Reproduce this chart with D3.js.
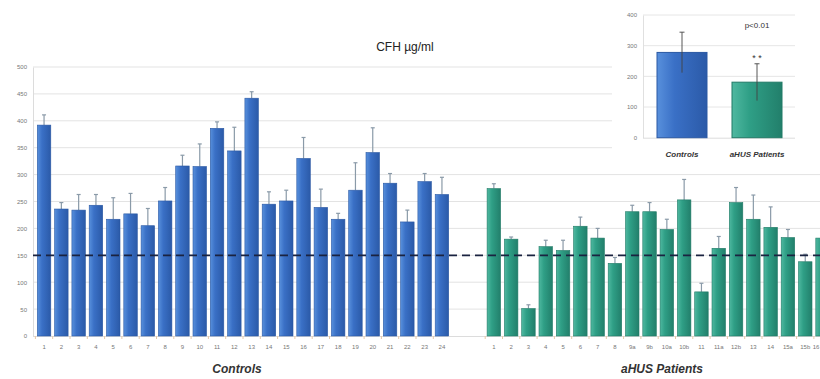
<!DOCTYPE html>
<html>
<head>
<meta charset="utf-8">
<script src="https://cdn.jsdelivr.net/npm/d3@7"></script>
<style>
  html, body { margin: 0; padding: 0; background: #fff; }
  svg { display: block; font-family: "Liberation Sans", "DejaVu Sans", Arial, sans-serif; }
</style>
</head>
<body>
<svg id="chart" width="820" height="379"></svg>
<script>
// CFH concentration per subject (µg/ml), mean and upper error
const controlLabels = ["1","2","3","4","5","6","7","8","9","10","11","12","13","14","15","16","17","18","19","20","21","22","23","24"];
const controlValues = [392,236,234,243,217,227,205,251,316,315,386,344,442,245,251,330,239,217,271,341,284,212,287,263];
const controlErrors = [19,12,29,20,40,38,32,25,20,42,12,44,12,23,20,39,34,11,51,46,18,22,15,32];

const patientLabels = ["1","2","3","4","5","6","7","8","9a","9b","10a","10b","11","11a","12b","13","14","15a","15b","16"];
const patientValues = [274,180,51,166,159,204,182,135,231,231,198,253,82,163,248,217,202,183,138,182];
const patientErrors = [9,4,7,12,19,17,18,11,12,17,19,38,16,22,28,45,38,15,14,10];

// Group means (inset)
const groupNames = ["Controls", "aHUS Patients"];
const groupMeans = [278, 181];
const groupErrors = [66, 60];

const threshold = 150;
const yTicks = [0,50,100,150,200,250,300,350,400,450,500];
const insetTicks = [0,100,200,300,400];

const svg = d3.select("#chart");
const W = 820, H = 379;

// gradients for bar fills
const defs = svg.append("defs");
function grad(id, c1, c2, c3) {
  const g = defs.append("linearGradient").attr("id", id).attr("x1", "0").attr("x2", "1").attr("y1", "0").attr("y2", "0");
  g.append("stop").attr("offset", "0%").attr("stop-color", c1);
  g.append("stop").attr("offset", "35%").attr("stop-color", c2);
  g.append("stop").attr("offset", "100%").attr("stop-color", c3);
}
grad("gBlue", "#5890dc", "#3a70c6", "#2b5aa8");
grad("gTeal", "#4fb8a0", "#2f9f86", "#227f6b");

// ---------- main chart ----------
const gap = ["_g1", "_g2"];
const controlKeys = controlLabels.map(d => "c" + d);
const patientKeys = patientLabels.map(d => "p" + d);
const allKeys = controlKeys.concat(gap, patientKeys);

const x = d3.scaleBand().domain(allKeys).range([35.4, 35.4 + allKeys.length * 17.3])
  .paddingInner(0.22).paddingOuter(0.11);
const y = d3.scaleLinear().domain([0, 500]).range([336, 67]);

const plotLeft = 33, plotRight = W;

// horizontal gridlines
svg.append("g").selectAll("line").data(yTicks.filter(t => t > 0)).join("line")
  .attr("x1", plotLeft).attr("x2", plotRight)
  .attr("y1", d => y(d)).attr("y2", d => y(d))
  .attr("stroke", "#e3e3e3").attr("stroke-width", 1);

// y axis
const yAxis = svg.append("g").attr("transform", `translate(${plotLeft},0)`)
  .call(d3.axisLeft(y).tickValues(yTicks).tickSize(0).tickPadding(6));
yAxis.select(".domain").attr("stroke", "#dcdcdc");
yAxis.selectAll("text").attr("font-size", 6).attr("fill", "#777");

// baseline
svg.append("line").attr("x1", plotLeft).attr("x2", plotRight)
  .attr("y1", y(0) + 0.5).attr("y2", y(0) + 0.5).attr("stroke", "#dcdcdc");

const controls = controlKeys.map((k, i) => ({ key: k, label: controlLabels[i], v: controlValues[i], e: controlErrors[i], fill: "url(#gBlue)", stroke: "#2a58a3" }));
const patients = patientKeys.map((k, i) => ({ key: k, label: patientLabels[i], v: patientValues[i], e: patientErrors[i], fill: "url(#gTeal)", stroke: "#217a66" }));
const bars = controls.concat(patients);

// small category ticks under the axis
svg.append("g").selectAll("line").data(bars).join("line")
  .attr("x1", d => x(d.key) - x.step() * 0.11).attr("x2", d => x(d.key) - x.step() * 0.11)
  .attr("y1", y(0)).attr("y2", y(0) + 3)
  .attr("stroke", "#e8c9a8").attr("stroke-width", 1);

// error bars (upper)
const eb = svg.append("g");
eb.selectAll("line.v").data(bars).join("line").attr("class", "v")
  .attr("x1", d => x(d.key) + x.bandwidth() / 2).attr("x2", d => x(d.key) + x.bandwidth() / 2)
  .attr("y1", d => y(d.v)).attr("y2", d => y(d.v + d.e))
  .attr("stroke", "#8a9aa8").attr("stroke-width", 1.2);
eb.selectAll("line.c").data(bars).join("line").attr("class", "c")
  .attr("x1", d => x(d.key) + x.bandwidth() / 2 - 2).attr("x2", d => x(d.key) + x.bandwidth() / 2 + 2)
  .attr("y1", d => y(d.v + d.e)).attr("y2", d => y(d.v + d.e))
  .attr("stroke", "#8a9aa8").attr("stroke-width", 1.2);

// bars
svg.append("g").selectAll("rect").data(bars).join("rect")
  .attr("x", d => x(d.key)).attr("width", x.bandwidth())
  .attr("y", d => y(d.v)).attr("height", d => y(0) - y(d.v))
  .attr("fill", d => d.fill).attr("stroke", d => d.stroke).attr("stroke-width", 0.6);

// threshold line
svg.append("line").attr("x1", plotLeft).attr("x2", plotRight)
  .attr("y1", y(threshold)).attr("y2", y(threshold))
  .attr("stroke", "#1a2340").attr("stroke-width", 1.8).attr("stroke-dasharray", "8,5");

// category labels (the last one is kept inside the right edge)
svg.append("g").selectAll("text").data(bars).join("text")
  .attr("x", d => Math.min(x(d.key) + x.bandwidth() / 2, W - 4)).attr("y", 349)
  .attr("text-anchor", "middle").attr("font-size", 6).attr("fill", "#777")
  .text(d => d.label);

// group labels
svg.append("text").attr("x", 237).attr("y", 373).attr("text-anchor", "middle")
  .attr("font-size", 12).attr("font-weight", "bold").attr("font-style", "italic").attr("fill", "#333")
  .text("Controls");
svg.append("text").attr("x", 662).attr("y", 373).attr("text-anchor", "middle")
  .attr("font-size", 12).attr("font-weight", "bold").attr("font-style", "italic").attr("fill", "#333")
  .text("aHUS Patients");

// title
svg.append("text").attr("x", 405).attr("y", 51).attr("text-anchor", "middle")
  .attr("font-size", 12).attr("fill", "#222").text("CFH µg/ml");

// ---------- inset: group means ----------
const inset = svg.append("g");
inset.append("rect").attr("x", 612).attr("y", 0).attr("width", 208).attr("height", 166).attr("fill", "#fff");

const iy = d3.scaleLinear().domain([0, 400]).range([137.7, 15]);
const ix = d3.scaleBand().domain(groupNames).range([644.5, 794.5]).paddingInner(1 / 3).paddingOuter(1 / 6);

inset.append("g").selectAll("line").data(insetTicks.filter(t => t > 0)).join("line")
  .attr("x1", 643).attr("x2", 795).attr("y1", d => iy(d)).attr("y2", d => iy(d))
  .attr("stroke", "#e6e6e6");
const iAxis = inset.append("g").attr("transform", "translate(643,0)")
  .call(d3.axisLeft(iy).tickValues(insetTicks).tickSize(0).tickPadding(6));
iAxis.select(".domain").attr("stroke", "#e0e0e0");
iAxis.selectAll("text").attr("font-size", 6).attr("fill", "#777");
inset.append("line").attr("x1", 643).attr("x2", 795).attr("y1", iy(0) + 0.5).attr("y2", iy(0) + 0.5).attr("stroke", "#dcdcdc");

const groups = groupNames.map((n, i) => ({ n, v: groupMeans[i], e: groupErrors[i], fill: i === 0 ? "url(#gBlue)" : "url(#gTeal)", stroke: i === 0 ? "#2a58a3" : "#217a66" }));
inset.append("g").selectAll("rect").data(groups).join("rect")
  .attr("x", d => ix(d.n)).attr("width", ix.bandwidth())
  .attr("y", d => iy(d.v)).attr("height", d => iy(0) - iy(d.v))
  .attr("fill", d => d.fill).attr("stroke", d => d.stroke).attr("stroke-width", 1);
const ie = inset.append("g").attr("stroke", "#444").attr("stroke-width", 0.9);
ie.selectAll("line.v").data(groups).join("line").attr("class", "v")
  .attr("x1", d => ix(d.n) + ix.bandwidth() / 2).attr("x2", d => ix(d.n) + ix.bandwidth() / 2)
  .attr("y1", d => iy(d.v - d.e)).attr("y2", d => iy(d.v + d.e));
ie.selectAll("line.c").data(groups).join("line").attr("class", "c")
  .attr("x1", d => ix(d.n) + ix.bandwidth() / 2 - 2.5).attr("x2", d => ix(d.n) + ix.bandwidth() / 2 + 2.5)
  .attr("y1", d => iy(d.v + d.e)).attr("y2", d => iy(d.v + d.e));

inset.append("g").selectAll("text").data(groups).join("text")
  .attr("x", d => ix(d.n) + ix.bandwidth() / 2).attr("y", 157)
  .attr("text-anchor", "middle").attr("font-size", 8).attr("font-weight", "bold").attr("font-style", "italic").attr("fill", "#333")
  .text(d => d.n);

inset.append("text").attr("x", ix(groupNames[1]) + ix.bandwidth() / 2).attr("y", 28)
  .attr("text-anchor", "middle").attr("font-size", 8).attr("fill", "#333").text("p<0.01");
inset.append("text").attr("x", ix(groupNames[1]) + ix.bandwidth() / 2).attr("y", 61)
  .attr("text-anchor", "middle").attr("font-size", 9).attr("fill", "#333").text("* *");
</script>
</body>
</html>
